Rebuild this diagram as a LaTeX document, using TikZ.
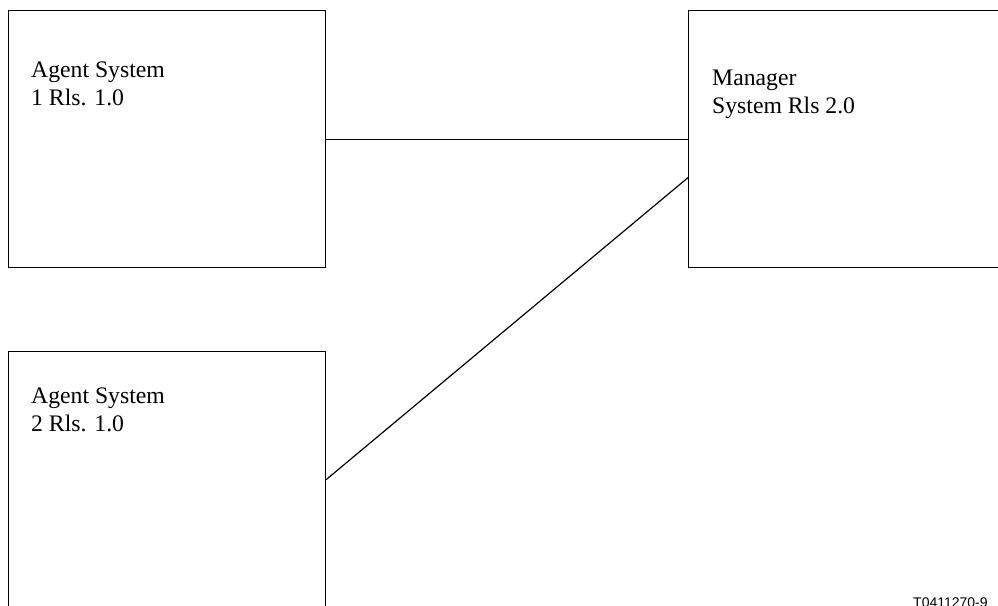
\documentclass[tikz,border=0pt]{standalone}
\usepackage{fontspec}
\setmainfont{Liberation Serif}
\newfontfamily\labelsans{Liberation Sans}
\begin{document}
\begin{tikzpicture}[x=1pt,y=-1pt,
  sysbox/.style={draw=black,line width=1.2pt,minimum width=317pt,minimum height=257pt,inner sep=0pt,anchor=north west},
  systext/.style={anchor=base west,inner sep=0pt,align=left,font=\fontsize{23.7}{28}\selectfont},
  link/.style={draw=black,line width=1.2pt}]
\useasboundingbox (0,0) rectangle (998,605);
\clip (0,0) rectangle (998,605);
\node[sysbox] (a1) at (8,10) {};
\node[sysbox] (m) at (688,10) {};
\node[sysbox,minimum height=256pt] (a2) at (8,351) {};
\node[systext] (t1) at (31,105) {Agent System\\1 Rls. 1.0};
\node[systext] (tm) at (712,113) {Manager\\System Rls 2.0};
\node[systext] (t2) at (31,431) {Agent System\\2 Rls. 1.0};
\node[anchor=north west,inner sep=0pt,font=\labelsans\fontsize{14}{16}\selectfont] (id) at (913,598) {T0411270-9};
\draw[link] (a1.east) -- (m.west);
\draw[link] (a2.east) -- ([yshift=-38.5pt]m.west);
\end{tikzpicture}
\end{document}
